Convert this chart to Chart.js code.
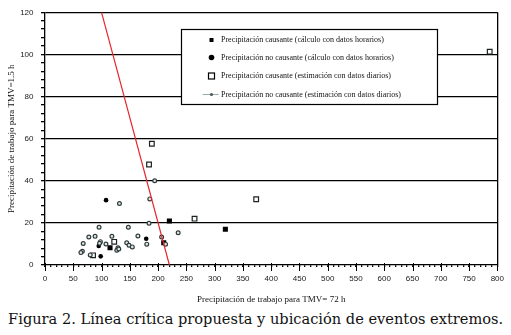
<!DOCTYPE html>
<html>
<head>
<meta charset="utf-8">
<script src="https://cdn.jsdelivr.net/npm/chart.js@4"></script>
<style>
  body { margin: 0; background: #fff; width: 511px; height: 335px; overflow: hidden; position: relative; }
  #wrap { position: absolute; left: 0; top: 0; width: 511px; height: 306px; }
  #caption { position: absolute; left: 0; top: 310px; width: 511px; text-align: center;
             font-family: "DejaVu Serif", serif; font-size: 15px; white-space: nowrap; color: #111; }
  #capText { display: inline-block; transform-origin: center; }
</style>
</head>
<body>
<div id="wrap"><canvas id="chart"></canvas></div>
<div id="caption"><span id="capText">Figura 2. Línea crítica propuesta y ubicación de eventos extremos.</span></div>
<script>
// precipitacion causante, calculo con datos horarios
const causHorX = [115, 210, 220, 319];
const causHorY = [8.2, 10.6, 20.9, 17];
// precipitacion no causante, calculo con datos horarios
const noCausHorX = [108, 179, 95, 98.5];
const noCausHorY = [30.8, 12.5, 9, 4.1];
// precipitacion causante, estimacion con datos diarios
const causDiaX = [189, 184, 264.5, 373.5, 786.5, 122.4, 85];
const causDiaY = [57.6, 47.7, 22, 31.2, 101.3, 11, 4.6];
// precipitacion no causante, estimacion con datos diarios
const noCausDiaX = [194, 131.7, 185.3, 184, 235.5, 95.6, 147.4, 77.5, 88.6, 118.3, 164.3, 206.3,
                    67.6, 98, 96.5, 107.8, 129, 127, 130.5, 144.5, 148.6, 154.4, 180, 213.3, 66, 63.5, 80];
const noCausDiaY = [40, 29.2, 31.4, 19.8, 15.3, 17.9, 17.9, 13.3, 13.6, 13.6, 13.8, 13.3,
                    10.2, 11.1, 10.3, 10, 8.2, 7, 7.6, 10.6, 9.4, 8.6, 9.9, 9.9, 6.5, 5.9, 4.8];
// linea critica propuesta
const critX = [100, 220];
const critY = [120, 0];

const seriesLabels = [
  'Precipitación causante (cálculo con datos horarios)',
  'Precipitación no causante (cálculo con datos horarios)',
  'Precipitación causante (estimación con datos diarios)',
  'Precipitación no causante (estimación con datos diarios)'
];

const toPts = (xs, ys) => xs.map((x, i) => ({ x: x, y: ys[i] }));

// cuadro de leyenda dentro del area del grafico
const legendBox = {
  id: 'legendBox',
  afterDatasetsDraw(chart) {
    const ctx = chart.ctx;
    const bx = 181, by = 29, bw = 256, bh = 75;
    const rows = [40, 57.5, 76, 94.5];
    const mx = 211.5;
    ctx.save();
    ctx.fillStyle = '#fff';
    ctx.fillRect(bx, by, bw, bh);
    ctx.strokeStyle = '#000';
    ctx.lineWidth = 1.2;
    ctx.strokeRect(bx + 0.5, by + 0.5, bw, bh);

    // marcadores
    ctx.fillStyle = '#000';
    ctx.fillRect(mx - 2, rows[0] - 2, 4, 4);
    ctx.beginPath(); ctx.arc(mx, rows[1], 2.8, 0, Math.PI * 2); ctx.fill();
    ctx.lineWidth = 1.2;
    ctx.strokeRect(mx - 3, rows[2] - 3, 6, 6);
    ctx.strokeStyle = '#8fb0b0'; ctx.lineWidth = 1;
    ctx.beginPath(); ctx.moveTo(mx - 9, rows[3]); ctx.lineTo(mx + 7, rows[3]); ctx.stroke();
    ctx.fillStyle = '#555';
    ctx.beginPath(); ctx.arc(mx, rows[3], 1.6, 0, Math.PI * 2); ctx.fill();

    ctx.fillStyle = '#111';
    ctx.font = '8px "Liberation Serif"';
    ctx.textBaseline = 'middle';
    seriesLabels.forEach((t, i) => ctx.fillText(t, 221, rows[i]));

    // marcas mayores del eje x, un poco mas largas
    const xs = chart.scales.x;
    const yb = chart.chartArea.bottom;
    ctx.strokeStyle = '#000'; ctx.lineWidth = 1;
    xs.ticks.forEach(tk => {
      if (tk.value % 50 === 0) {
        const px = Math.round(xs.getPixelForValue(tk.value)) + 0.5;
        ctx.beginPath(); ctx.moveTo(px, yb - 2); ctx.lineTo(px, yb + 6); ctx.stroke();
      }
    });
    ctx.restore();
  }
};

const ctx = document.getElementById('chart').getContext('2d');
new Chart(ctx, {
  type: 'scatter',
  data: {
    datasets: [
      {
        label: 'Línea crítica',
        data: toPts(critX, critY),
        showLine: true,
        borderColor: '#e5262b',
        borderWidth: 1.2,
        pointRadius: 0
      },
      {
        label: seriesLabels[3],
        data: toPts(noCausDiaX, noCausDiaY),
        pointStyle: 'circle',
        pointRadius: 1.9,
        borderWidth: 1.2,
        borderColor: '#2f3a3a',
        backgroundColor: '#dfe6e6'
      },
      {
        label: seriesLabels[2],
        data: toPts(causDiaX, causDiaY),
        pointStyle: 'rect',
        pointRadius: 3.3,
        borderWidth: 1.2,
        borderColor: '#1c2222',
        backgroundColor: '#fff'
      },
      {
        label: seriesLabels[1],
        data: toPts(noCausHorX, noCausHorY),
        pointStyle: 'circle',
        pointRadius: 2.3,
        borderWidth: 0,
        backgroundColor: '#000'
      },
      {
        label: seriesLabels[0],
        data: toPts(causHorX, causHorY),
        pointStyle: 'rect',
        pointRadius: 3.6,
        borderWidth: 0,
        backgroundColor: '#000'
      }
    ]
  },
  options: {
    responsive: true,
    maintainAspectRatio: false,
    animation: false,
    layout: { padding: { top: 6, right: 9, left: 0, bottom: 0 } },
    plugins: {
      legend: { display: false },
      tooltip: { enabled: false }
    },
    scales: {
      x: {
        type: 'linear',
        min: 0, max: 800,
        afterFit: s => { s.height = 41; },
        border: { display: true, color: '#000', width: 1.3 },
        grid: {
          color: c => (c.tick && c.tick.value === 800) ? '#000' : 'rgba(0,0,0,0)',
          lineWidth: 1.3,
          tickColor: '#000',
          tickLength: 2,
          drawTicks: true
        },
        ticks: {
          stepSize: 10,
          autoSkip: false,
          maxRotation: 0,
          padding: 7,
          color: '#1a1a1a',
          font: { family: '"Liberation Sans"', size: 8 },
          callback: v => (v % 50 === 0 ? v : '')
        },
        title: {
          display: true,
          text: 'Precipitación de trabajo para TMV= 72 h',
          color: '#111',
          font: { family: '"Liberation Serif"', size: 9 },
          padding: { top: 0, bottom: 1 }
        }
      },
      y: {
        type: 'linear',
        min: 0, max: 120,
        afterFit: s => { s.width = 45; },
        border: { display: true, color: '#000', width: 1.3 },
        grid: {
          color: c => (c.tick && c.tick.value % 20 === 0 && c.tick.value > 0) ? '#000' : 'rgba(0,0,0,0)',
          lineWidth: 1.3,
          tickColor: '#000',
          tickLength: 4
        },
        ticks: {
          stepSize: 4,
          autoSkip: false,
          padding: 7.5,
          color: '#1a1a1a',
          font: { family: '"Liberation Sans"', size: 8 },
          callback: v => (v % 20 === 0 ? v : '')
        },
        title: {
          display: true,
          text: 'Precipitación de trabajo para TMV=1.5 h',
          color: '#111',
          font: { family: '"Liberation Serif"', size: 9 },
          padding: { top: 6.5, bottom: 0 }
        }
      }
    }
  },
  plugins: [legendBox]
});

// ajustar el ancho del pie de figura
const cap = document.getElementById('capText');
const cw = cap.getBoundingClientRect().width;
cap.style.transform = 'scaleX(' + (495 / cw) + ')';
</script>
</body>
</html>
